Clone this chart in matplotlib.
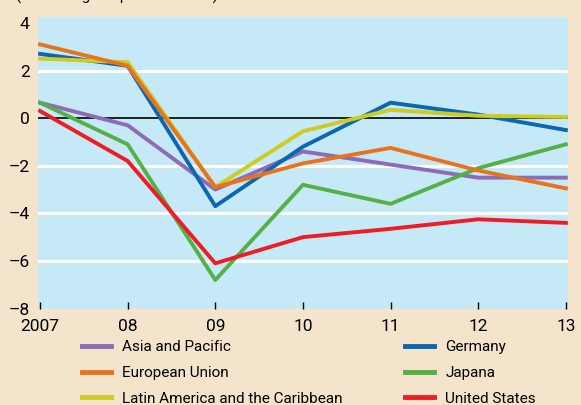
import matplotlib.pyplot as plt

plt.rcParams['font.family'] = ['Roboto', 'Liberation Sans', 'DejaVu Sans']

years = [2007, 2008, 2009, 2010, 2011, 2012, 2013]
year_labels = ['2007', '08', '09', '10', '11', '12', '13']

asia_pacific = [0.65, -0.3, -3.0, -1.4, -1.95, -2.5, -2.5]
european_union = [3.1, 2.2, -2.9, -1.9, -1.25, -2.2, -2.95]
latin_america = [2.5, 2.35, -2.9, -0.55, 0.35, 0.1, 0.05]
germany = [2.7, 2.2, -3.7, -1.2, 0.65, 0.15, -0.5]
japan = [0.65, -1.1, -6.8, -2.8, -3.6, -2.1, -1.1]
united_states = [0.3, -1.8, -6.1, -5.0, -4.65, -4.25, -4.4]

bg = '#F3E4CB'
fig = plt.figure(figsize=(5.81, 4.05), dpi=100, facecolor=bg)
ax = fig.add_axes([0.0654, 0.237, 0.912, 0.721])
ax.set_facecolor('#C6E9F7')

# white grid + black zero line
for v in [2, -2, -4, -6]:
    ax.axhline(v, color='white', lw=2.2, zorder=1)
ax.axhline(0, color='black', lw=1.2, zorder=1.5)

lw = 2.8
h_asia, = ax.plot(years, asia_pacific, color='#8B6CB5', lw=lw, zorder=2)
h_jap, = ax.plot(years, japan, color='#55B048', lw=lw, zorder=3)
h_ger, = ax.plot(years, germany, color='#0A67B0', lw=lw, zorder=4)
h_lat, = ax.plot(years, latin_america, color='#CFCB22', lw=lw, zorder=5)
h_eu, = ax.plot(years, european_union, color='#E8731E', lw=lw, zorder=6)
h_us, = ax.plot(years, united_states, color='#EE1C25', lw=lw, zorder=7)

ax.set_xlim(2006.977, 2013.023)
ax.set_ylim(-8.02, 4.25)
ax.set_xticks(years)
ax.set_xticklabels(year_labels)
ax.set_yticks([4, 2, 0, -2, -4, -6, -8])
ax.set_yticklabels(['4', '2', '0', '\u20132', '\u20134', '\u20136', '\u20138'])
ax.tick_params(axis='x', direction='in', length=5, width=1, pad=7, labelsize=12.5)
ax.tick_params(axis='y', length=0, pad=6, labelsize=12.5)
for s in ax.spines.values():
    s.set_visible(False)

fig.text(0.028, 1 - 1 / 405, '(Percentage of potential GDP)', fontsize=11,
         ha='left', va='baseline')

leg_kw = dict(frameon=False, fontsize=11, handlelength=1.9, labelspacing=0.78,
              handletextpad=0.75, loc='upper left', borderpad=0,
              borderaxespad=0)
leg1 = fig.legend([h_asia, h_eu, h_lat],
                  ['Asia and Pacific', 'European Union',
                   'Latin America and the Caribbean'],
                  bbox_to_anchor=(82 / 581, 1 - 340 / 405), **leg_kw)
leg2 = fig.legend([h_ger, h_jap, h_us],
                  ['Germany', 'Japana', 'United States'],
                  bbox_to_anchor=(405 / 581, 1 - 340 / 405), **leg_kw)
for leg in (leg1, leg2):
    for l in leg.get_lines():
        l.set_linewidth(3.5)

fig.savefig('out.png', dpi=100, facecolor=bg)
